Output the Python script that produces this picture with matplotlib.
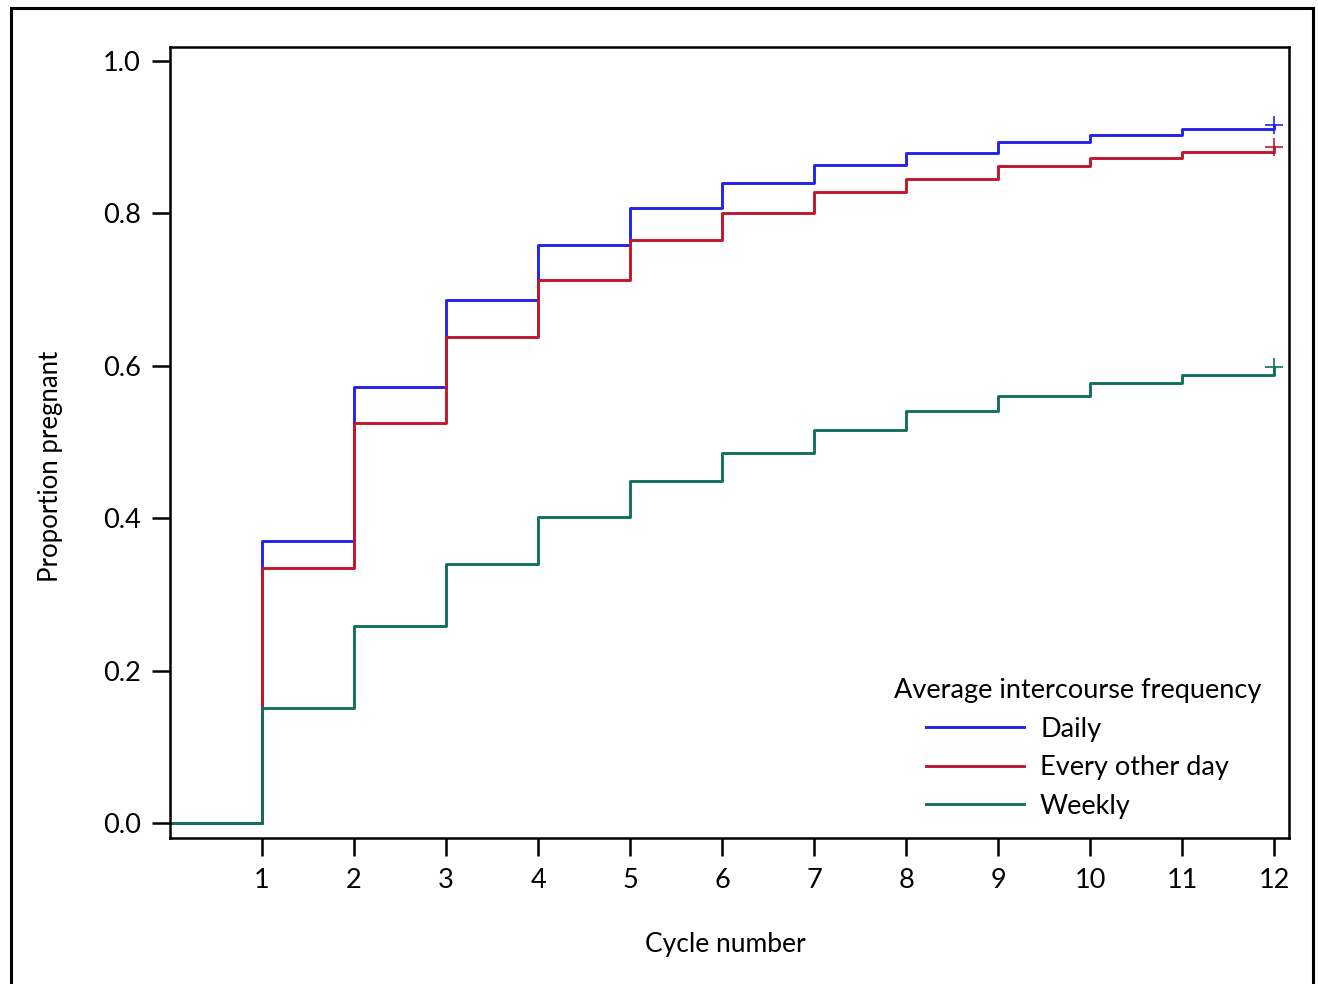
import matplotlib.pyplot as plt
from matplotlib.patches import Rectangle

plt.rcParams['font.family'] = ['Lato', 'DejaVu Sans']

# cycle number and cumulative proportion pregnant
cycles = [0, 1, 2, 3, 4, 5, 6, 7, 8, 9, 10, 11, 12]
daily = [0.0, 0.371, 0.572, 0.686, 0.759, 0.807, 0.840, 0.864, 0.879, 0.894, 0.903, 0.911, 0.916]
every_other = [0.0, 0.335, 0.525, 0.638, 0.713, 0.765, 0.801, 0.828, 0.845, 0.862, 0.873, 0.881, 0.887]
weekly = [0.0, 0.151, 0.259, 0.340, 0.402, 0.449, 0.486, 0.516, 0.541, 0.560, 0.577, 0.588, 0.598]

labels = ['Daily', 'Every other day', 'Weekly']
colors = ['#2424E8', '#C0182E', '#12705F']
series = [daily, every_other, weekly]

fig = plt.figure(figsize=(13.18, 9.84), dpi=100)
ax = fig.add_axes([0.129, 0.148, 0.849, 0.804])

for vals, lab, c in zip(series, labels, colors):
    ax.step(cycles, vals, where='post', color=c, lw=2.1, label=lab)
    # censoring mark at the last cycle
    ax.plot(cycles[-1], vals[-1], marker='+', ms=13, mew=1.2, color=c, ls='none')

ax.set_xlim(0.0, 12.16)
ax.set_ylim(-0.0197, 1.018)
ax.set_xticks(range(1, 13))
ax.set_yticks([0.0, 0.2, 0.4, 0.6, 0.8, 1.0])
ax.set_yticklabels(['0.0', '0.2', '0.4', '0.6', '0.8', '1.0'])
ax.tick_params(axis='both', direction='out', length=13, width=1.8, labelsize=19.5, pad=8)
for s in ax.spines.values():
    s.set_linewidth(1.8)

ax.set_xlabel('Cycle number', fontsize=19)
ax.set_ylabel('Proportion pregnant', fontsize=18.5)
ax.xaxis.set_label_coords(0.496, -0.118)
ax.yaxis.set_label_coords(-0.096, 0.47)

leg = ax.legend(title='Average intercourse frequency', frameon=False, fontsize=19.5,
                title_fontsize=19.5, handlelength=3.6, handletextpad=0.6, labelspacing=0.5,
                loc='lower right', bbox_to_anchor=(0.997, -0.006))
for h in leg.get_lines():
    h.set_linewidth(2.1)

# outer frame round the figure
fig.patches.append(Rectangle((0.008, -0.05), 0.988, 1.042, transform=fig.transFigure,
                             fill=False, edgecolor='black', lw=2.2))

fig.savefig('out.png')
